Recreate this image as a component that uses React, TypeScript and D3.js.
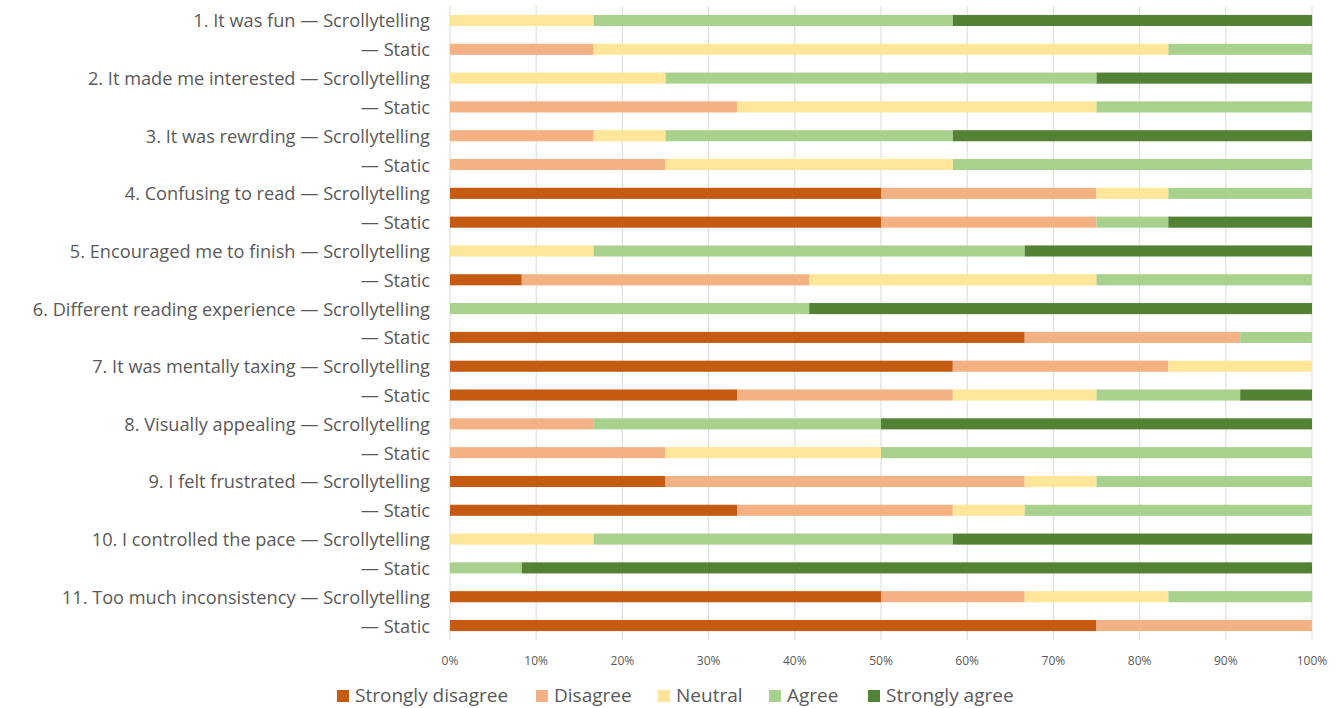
import React from "react";
import * as d3 from "d3";

const questions = [
  "1. It was fun",
  "2. It made me interested",
  "3. It was rewrding",
  "4. Confusing to read",
  "5. Encouraged me to finish",
  "6. Different reading experience",
  "7. It was mentally taxing",
  "8. Visually appealing",
  "9. I felt frustrated",
  "10. I controlled the pace",
  "11. Too much inconsistency",
];
const conditions = ["Scrollytelling", "Static"];
const levels = ["Strongly disagree", "Disagree", "Neutral", "Agree", "Strongly agree"];
const colors = ["#C55A11", "#F4B183", "#FFE699", "#A9D18E", "#548235"];

// shares in percent, order: SD, D, N, A, SA
const scrollyValues = [
  [0, 0, 16.67, 41.67, 41.67],
  [0, 0, 25, 50, 25],
  [0, 16.67, 8.33, 33.33, 41.67],
  [50, 25, 8.33, 16.67, 0],
  [0, 0, 16.67, 50, 33.33],
  [0, 0, 0, 41.67, 58.33],
  [58.33, 25, 16.67, 0, 0],
  [0, 16.67, 0, 33.33, 50],
  [25, 41.67, 8.33, 25, 0],
  [0, 0, 16.67, 41.67, 41.67],
  [50, 16.67, 16.67, 16.67, 0],
];
const staticValues = [
  [0, 16.67, 66.67, 16.67, 0],
  [0, 33.33, 41.67, 25, 0],
  [0, 25, 33.33, 41.67, 0],
  [50, 25, 0, 8.33, 16.67],
  [8.33, 33.33, 33.33, 25, 0],
  [66.67, 25, 0, 8.33, 0],
  [33.33, 25, 16.67, 16.67, 8.33],
  [0, 25, 25, 50, 0],
  [33.33, 25, 8.33, 33.33, 0],
  [0, 0, 0, 8.33, 91.67],
  [75, 25, 0, 0, 0],
];
const xTicks = [0, 10, 20, 30, 40, 50, 60, 70, 80, 90, 100];

type Row = { key: string; label: string; values: number[] };

export default function App() {
  const W = 1336;
  const H = 708;
  const rows: Row[] = [];
  questions.forEach((q, i) => {
    rows.push({ key: `${i}-s`, label: `${q} — ${conditions[0]}`, values: scrollyValues[i] });
    rows.push({ key: `${i}-t`, label: `— ${conditions[1]}`, values: staticValues[i] });
  });

  const x = d3.scaleLinear().domain([0, 100]).range([450, 1312]);
  const y = d3
    .scaleBand<string>()
    .domain(rows.map((r) => r.key))
    .range([6, 640])
    .paddingInner(0.615)
    .paddingOuter(0.31);

  const stackData = rows.map((r) => {
    const o: any = { key: r.key };
    levels.forEach((l, i) => (o[l] = r.values[i]));
    return o;
  });
  const series = d3.stack<any>().keys(levels)(stackData);

  const font = "'Open Sans', sans-serif";
  const legendX = [337, 536, 658, 769, 868];

  return (
    <svg width={W} height={H} style={{ position: "absolute", left: 0, top: 0, background: "#fff" }}>
      {xTicks.map((t) => (
        <line key={t} x1={x(t)} x2={x(t)} y1={6} y2={640} stroke="#D9D9D9" strokeWidth={1} />
      ))}
      {series.map((s, si) => (
        <g key={s.key} fill={colors[si]}>
          {s.map((d, di) =>
            d[1] - d[0] > 0 ? (
              <rect
                key={di}
                x={x(d[0])}
                y={y(rows[di].key)}
                width={x(d[1]) - x(d[0])}
                height={y.bandwidth()}
              />
            ) : null
          )}
        </g>
      ))}
      {rows.map((r) => (
        <text
          key={r.key}
          x={430}
          y={(y(r.key) as number) + y.bandwidth() / 2}
          textAnchor="end"
          dominantBaseline="central"
          fontFamily={font}
          fontSize={18.2}
          fill="#595959"
        >
          {r.label}
        </text>
      ))}
      {xTicks.map((t) => (
        <text
          key={t}
          x={x(t)}
          y={660}
          textAnchor="middle"
          dominantBaseline="central"
          fontFamily={font}
          fontSize={12}
          fill="#595959"
        >
          {t}%
        </text>
      ))}
      {levels.map((l, i) => (
        <g key={l}>
          <rect x={legendX[i]} y={690} width={12} height={12} fill={colors[i]} />
          <text
            x={legendX[i] + 18}
            y={695}
            dominantBaseline="central"
            fontFamily={font}
            fontSize={19}
            fill="#595959"
          >
            {l}
          </text>
        </g>
      ))}
    </svg>
  );
}
